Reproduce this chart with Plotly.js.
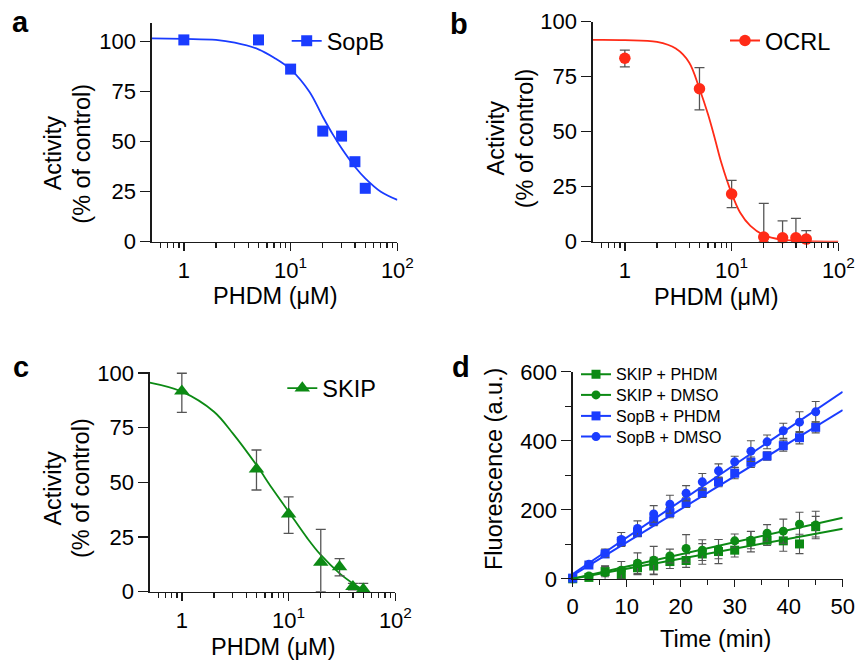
<!DOCTYPE html>
<html><head><meta charset="utf-8">
<script src="https://cdn.plot.ly/plotly-3.0.1.min.js"></script>
<style>html,body{margin:0;padding:0;background:#fff}#chart{width:858px;height:660px}</style>
</head><body><div id="chart"></div>
<script>
// ---------- data ----------
const conc = [1, 5, 10, 20, 30, 40, 50];                 // PHDM (µM)

// panel a: SopB
const sopbActivity = [100.9, 100.9, 86.3, 55.3, 52.8, 40.0, 26.7];
const sopbFitX = [0.5, 1, 2, 3, 5, 7, 10, 15, 20, 25, 30, 40, 50, 70, 100];
const sopbFitY = [101.7, 101.4, 100.9, 99.5, 96.2, 92, 86.2, 75, 62.5, 53.4, 46.7, 37.5, 31.7, 25, 20.9];

// panel b: OCRL
const ocrlActivity = [83.4, 69.5, 21.7, 2.1, 1.8, 1.8, 1.2];
const ocrlErrUp = [3.7, 9.6, 6.2, 15.3, 7.7, 8.8, 3.8];
const ocrlErrDown = [3.9, 9.6, 6.2, 2.1, 1.8, 1.8, 1.2];
const ocrlFitX = [0.5, 1, 2, 3, 4, 5, 6, 7, 8, 10, 12, 15, 20, 30, 50, 100];
const ocrlFitY = [91.7, 91.6, 90.8, 87.8, 81.5, 69.5, 58, 46.5, 36, 22, 13.3, 7.2, 3, 0.9, 0.2, 0];

// panel c: SKIP
const skipActivity = [91.7, 56.1, 35.5, 13.4, 11.4, 2.3, 1.1];
const skipErrUp = [8.2, 8.7, 7.9, 15.1, 3.7, 1.5, 2.7];
const skipErrDown = [9.7, 9.6, 8.8, 13.4, 4.2, 1.5, 1.1];
const skipFitX = [0.5, 1, 2, 3, 5, 7, 10, 15, 20, 30, 40, 50, 53];
const skipFitY = [95.6, 91.5, 82.3, 72.4, 57.9, 47.3, 36.6, 24.4, 16.8, 8.4, 3.8, 0.8, 0];

// panel d: kinetics
const timeMin = [0, 3, 6, 9, 12, 15, 18, 21, 24, 27, 30, 33, 36, 39, 42, 45];
const skipPhdm = [0, 4, 21, 11, 32, 37, 50, 53, 72, 79, 83, 108, 112, 110, 101, 151];
const skipPhdmErr = [2, 5, 15, 20, 20, 25, 20, 20, 30, 35, 20, 30, 15, 30, 28, 30];
const skipDmso = [0, 8, 18, 25, 45, 54, 66, 88, 83, 86, 110, 112, 132, 138, 158, 156];
const skipDmsoErr = [2, 5, 20, 25, 30, 40, 20, 40, 30, 28, 20, 25, 25, 35, 35, 40];
const sopbPhdm = [2, 40, 72, 108, 134, 168, 192, 221, 250, 281, 306, 338, 356, 386, 409, 439];
const sopbPhdmErr = [2, 8, 10, 12, 12, 14, 15, 14, 14, 14, 16, 15, 12, 16, 18, 16];
const sopbDmso = [2, 42, 74, 114, 146, 188, 216, 248, 281, 313, 339, 370, 397, 429, 454, 484];
const sopbDmsoErr = [2, 8, 12, 20, 22, 24, 26, 22, 24, 20, 16, 30, 20, 22, 30, 30];
const fitTime = [0, 50];
const skipPhdmFit = [0, 145];
const skipDmsoFit = [0, 177];
const sopbPhdmFit = [10, 489];
const sopbDmsoFit = [14, 542];

// tick labels
const logTickVals = [1, 10, 100];
const logTickText = ['1', '10<sup>1</sup>', '10<sup>2</sup>'];
const logMinorVals = [0.6, 0.7, 0.8, 0.9, 2, 3, 4, 5, 6, 7, 8, 9, 20, 30, 40, 50, 60, 70, 80, 90];
const activityTicks = [0, 25, 50, 75, 100];

// ---------- styling ----------
const W = 858, H = 660;
const px = v => v / W, py = v => 1 - v / H;
const FONT = 'Liberation Sans, Arial, Helvetica, sans-serif';
const BLUE = '#1a3cff', RED = '#ff2b17', GREEN = '#0c8a14';
const AX = '#1a1a1a';
const errStyle = (up, down) => ({type: 'data', array: up, arrayminus: down, symmetric: false,
  color: '#555555', thickness: 1.3, width: 5});

function logAxis(x0, x1, anchor) {
  return {domain: [px(x0), px(x1)], anchor: anchor, type: 'log', range: [Math.log10(0.5), 2],
    showline: true, linecolor: AX, linewidth: 1.4, showgrid: false, zeroline: false,
    ticks: 'outside', ticklen: 8, tickwidth: 1.4, tickcolor: AX,
    tickmode: 'array', tickvals: logTickVals, ticktext: logTickText,
    tickfont: {family: FONT, size: 22, color: '#000'},
    minor: {tickmode: 'array', tickvals: logMinorVals, ticks: 'outside', ticklen: 5, tickwidth: 1.2, tickcolor: AX, showgrid: false},
    automargin: false, fixedrange: true};
}
function linAxis(d0, d1, anchor, range, tickvals, len) {
  return {domain: [py(d1), py(d0)], anchor: anchor, range: range,
    showline: true, linecolor: AX, linewidth: 1.4, showgrid: false, zeroline: false,
    ticks: 'outside', ticklen: len, tickwidth: 1.4, tickcolor: AX,
    tickmode: 'array', tickvals: tickvals,
    tickfont: {family: FONT, size: 22, color: '#000'}, automargin: false, fixedrange: true};
}

const traces = [];
// panel a
traces.push({x: sopbFitX, y: sopbFitY, xaxis: 'x', yaxis: 'y', mode: 'lines', line: {color: BLUE, width: 1.8, shape: 'spline'}, showlegend: false, hoverinfo: 'skip'});
traces.push({x: conc, y: sopbActivity, xaxis: 'x', yaxis: 'y', mode: 'markers', marker: {symbol: 'square', size: 11, color: BLUE}, showlegend: false, cliponaxis: false});
traces.push({x: [null], y: [null], xaxis: 'x', yaxis: 'y', mode: 'lines+markers', name: 'SopB', legend: 'legend', line: {color: BLUE, width: 1.8}, marker: {symbol: 'square', size: 11, color: BLUE}});
// panel b
traces.push({x: ocrlFitX, y: ocrlFitY, xaxis: 'x2', yaxis: 'y2', mode: 'lines', line: {color: RED, width: 1.8, shape: 'spline'}, showlegend: false, hoverinfo: 'skip'});
traces.push({x: conc, y: ocrlActivity, xaxis: 'x2', yaxis: 'y2', mode: 'markers', error_y: errStyle(ocrlErrUp, ocrlErrDown), marker: {symbol: 'circle', size: 11.5, color: RED}, showlegend: false, cliponaxis: false});
traces.push({x: [null], y: [null], xaxis: 'x2', yaxis: 'y2', mode: 'lines+markers', name: 'OCRL', legend: 'legend2', line: {color: RED, width: 1.8}, marker: {symbol: 'circle', size: 11.5, color: RED}});
// panel c
traces.push({x: skipFitX, y: skipFitY, xaxis: 'x3', yaxis: 'y3', mode: 'lines', line: {color: GREEN, width: 1.8, shape: 'spline'}, showlegend: false, hoverinfo: 'skip'});
traces.push({x: conc, y: skipActivity, xaxis: 'x3', yaxis: 'y3', mode: 'markers', error_y: errStyle(skipErrUp, skipErrDown), marker: {symbol: 'triangle-up', size: 13.5, color: GREEN}, showlegend: false, cliponaxis: false});
traces.push({x: [null], y: [null], xaxis: 'x3', yaxis: 'y3', mode: 'lines+markers', name: 'SKIP', legend: 'legend3', line: {color: GREEN, width: 1.8}, marker: {symbol: 'triangle-up', size: 13.5, color: GREEN}});
// panel d
const dSeries = [
  {name: 'SKIP + PHDM', y: skipPhdm, e: skipPhdmErr, fit: skipPhdmFit, color: GREEN, sym: 'square', legend: 'legend4'},
  {name: 'SKIP + DMSO', y: skipDmso, e: skipDmsoErr, fit: skipDmsoFit, color: GREEN, sym: 'circle', legend: 'legend5'},
  {name: 'SopB + PHDM', y: sopbPhdm, e: sopbPhdmErr, fit: sopbPhdmFit, color: BLUE, sym: 'square', legend: 'legend6'},
  {name: 'SopB + DMSO', y: sopbDmso, e: sopbDmsoErr, fit: sopbDmsoFit, color: BLUE, sym: 'circle', legend: 'legend7'}
];
dSeries.forEach(s => {
  traces.push({x: timeMin, y: s.y, xaxis: 'x4', yaxis: 'y4', mode: 'markers',
    error_y: {type: 'data', array: s.e, color: '#555555', thickness: 1.1, width: 4},
    marker: {symbol: s.sym, size: 9, color: s.color}, showlegend: false, cliponaxis: false});
});
dSeries.forEach(s => {
  traces.push({x: fitTime, y: s.fit, xaxis: 'x4', yaxis: 'y4', mode: 'lines', line: {color: s.color, width: 2}, showlegend: false, hoverinfo: 'skip'});
});
dSeries.forEach(s => {
  traces.push({x: [null], y: [null], xaxis: 'x4', yaxis: 'y4', mode: 'lines+markers', name: s.name, legend: s.legend,
    line: {color: s.color, width: 2}, marker: {symbol: s.sym, size: 9, color: s.color}});
});

const ann = (text, x, y, size, extra) => Object.assign({text: text, x: px(x), y: py(y), xref: 'paper', yref: 'paper',
  xanchor: 'center', yanchor: 'middle', showarrow: false, font: {family: FONT, size: size, color: '#000'}}, extra || {});

const legendBase = (x, y, size) => ({x: px(x), y: py(y), xanchor: 'left', yanchor: 'middle', bgcolor: 'rgba(0,0,0,0)',
  borderwidth: 0, font: {family: FONT, size: size, color: '#000'}, tracegroupgap: 0, itemclick: false, itemdoubleclick: false});

const layout = {
  width: W, height: H, margin: {l: 0, r: 0, t: 0, b: 0, pad: 0},
  paper_bgcolor: '#fff', plot_bgcolor: 'rgba(0,0,0,0)', showlegend: true,
  xaxis: logAxis(151.7, 397.4, 'y'),
  yaxis: linAxis(22.7, 241.7, 'x', [0, 109.5], activityTicks, 10),
  xaxis2: logAxis(592.7, 838.4, 'y2'),
  yaxis2: linAxis(21.7, 241.7, 'x2', [0, 100], activityTicks, 10),
  xaxis3: logAxis(149.7, 395.4, 'y3'),
  yaxis3: linAxis(371.7, 591.7, 'x3', [0, 100.6], activityTicks, 10),
  xaxis4: Object.assign(linAxis(0, 0, 'y4', [0, 50], [0, 10, 20, 30, 40, 50], 7),
    {domain: [px(572.7), px(842.7)], minor: {tickmode: 'array', tickvals: [5, 15, 25, 35, 45], ticks: 'outside', ticklen: 5, tickwidth: 1.2, tickcolor: AX, showgrid: false}}),
  yaxis4: Object.assign(linAxis(371.8, 578.8, 'x4', [0, 600], [0, 200, 400, 600], 10),
    {minor: {tickmode: 'array', tickvals: [100, 300, 500], ticks: 'outside', ticklen: 6, tickwidth: 1.2, tickcolor: AX, showgrid: false}}),
  legend: legendBase(286.7, 41, 23.5),
  legend2: legendBase(725, 40.7, 23.5),
  legend3: legendBase(282.3, 388.3, 23.5),
  legend4: legendBase(576, 374.3, 16),
  legend5: legendBase(576, 395, 16),
  legend6: legendBase(576, 416, 16),
  legend7: legendBase(576, 436.7, 16),
  annotations: [
    ann('<b>a</b>', 20.7, 22.5, 29), ann('<b>b</b>', 459.3, 24.5, 29),
    ann('<b>c</b>', 20.7, 366.5, 29), ann('<b>d</b>', 460.7, 367.5, 29),
    ann('Activity', 53.3, 153, 23.5, {textangle: -90}),
    ann('(% of control)', 81.7, 154, 23.5, {textangle: -90}),
    ann('Activity', 495, 137.5, 23.5, {textangle: -90}),
    ann('(% of control)', 525, 138.3, 23.5, {textangle: -90}),
    ann('Activity', 53.3, 488.3, 23.5, {textangle: -90}),
    ann('(% of control)', 81.7, 488.3, 23.5, {textangle: -90}),
    ann('Fluorescence (a.u.)', 494, 469, 23.5, {textangle: -90}),
    ann('PHDM (μM)', 275, 296, 23.5),
    ann('PHDM (μM)', 716.7, 296.7, 23.5),
    ann('PHDM (μM)', 273.3, 646.7, 23.5),
    ann('Time (min)', 715, 639, 23.5)
  ]
};

Plotly.newPlot('chart', traces, layout, {displayModeBar: false, staticPlot: true});
</script></body></html>
